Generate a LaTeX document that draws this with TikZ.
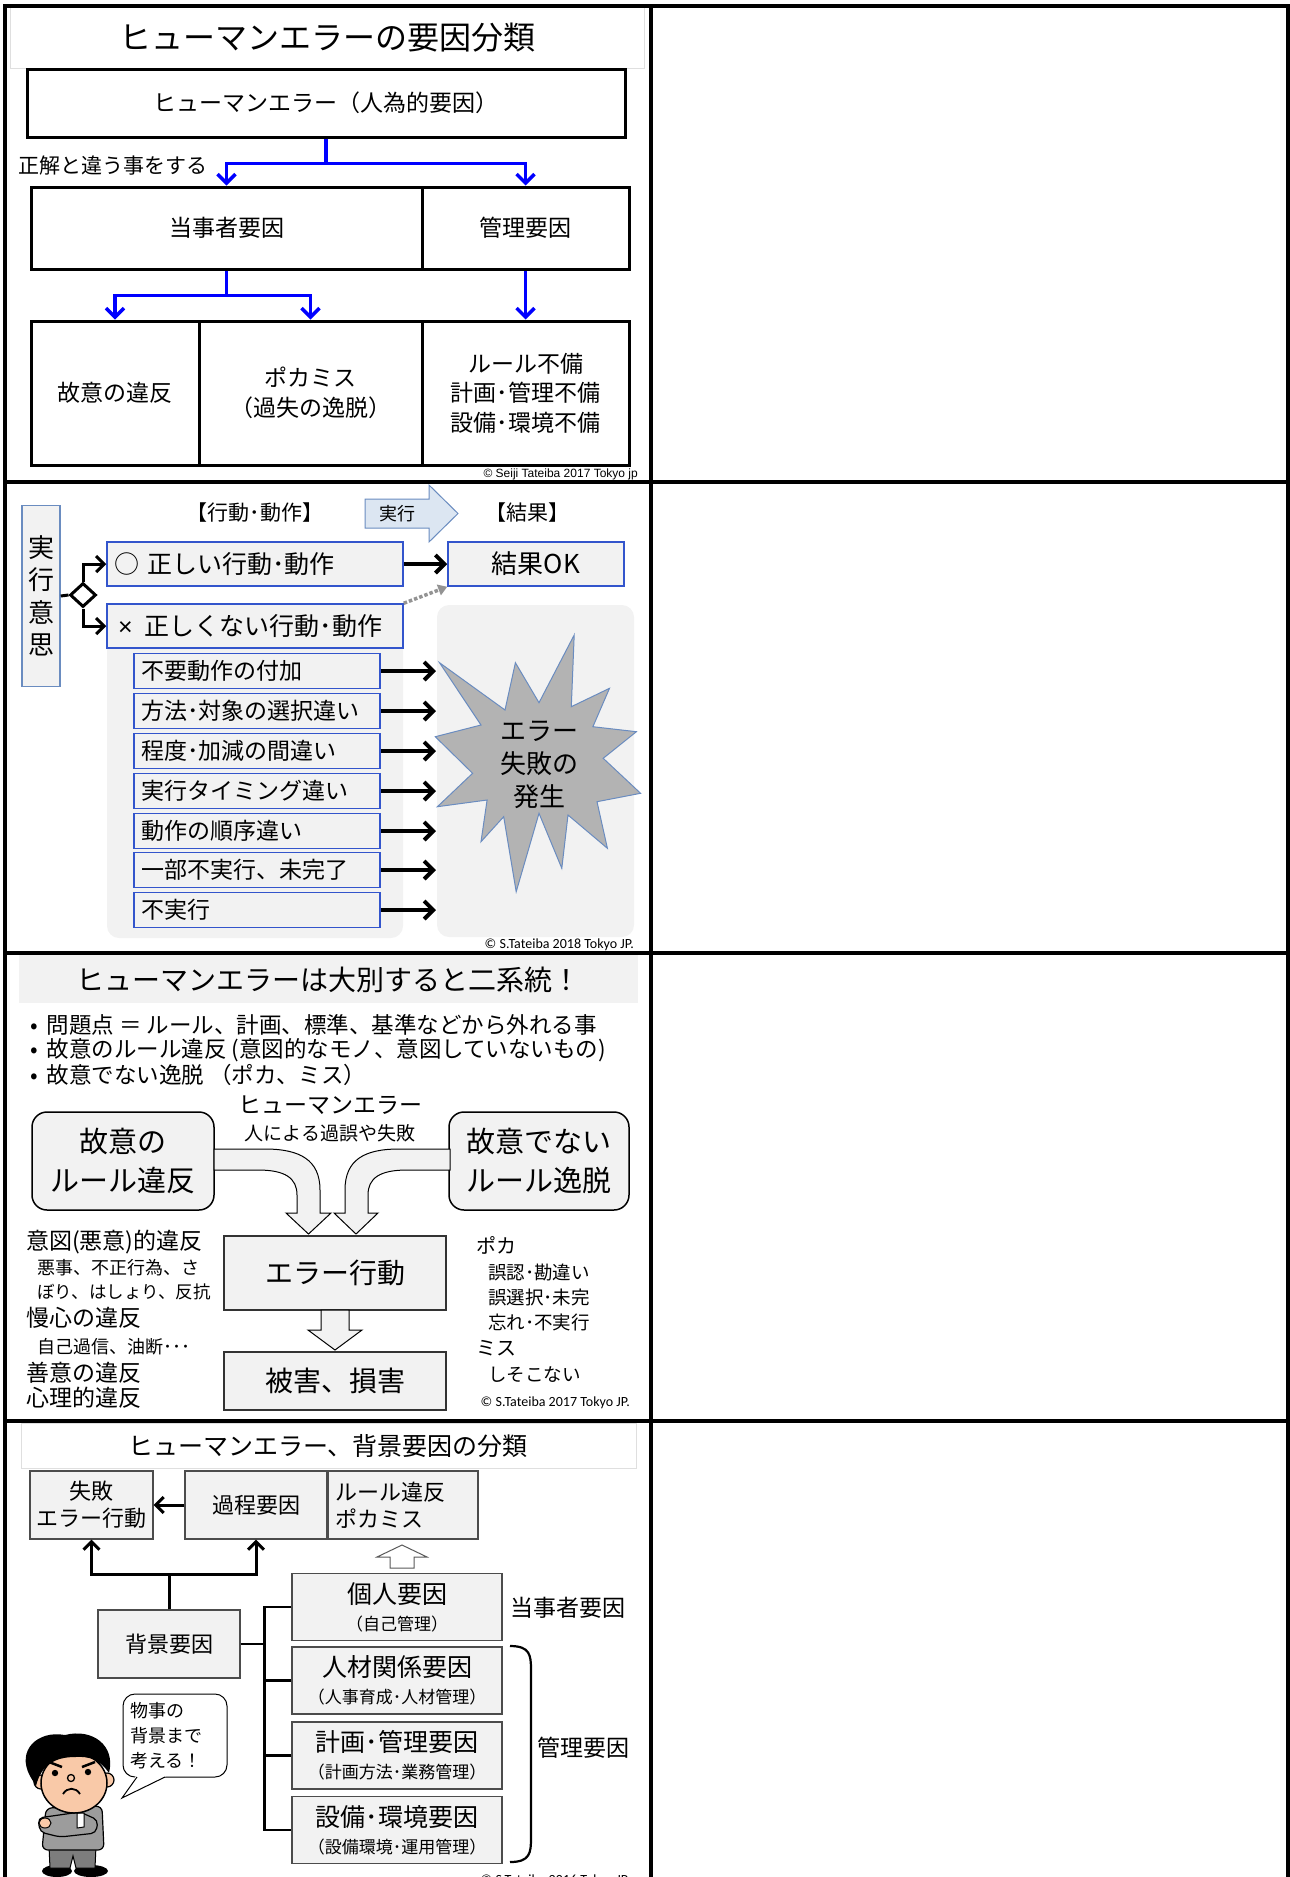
\documentclass[tikz,border=0pt]{standalone}
\usepackage{fontspec}
\setmainfont{Noto Sans CJK JP}
\newfontfamily\notefont{Carlito}
\newfontfamily\latinsans{Liberation Sans}
\usetikzlibrary{arrows.meta,shapes.geometric}

\newcommand\fsz[2]{\fontsize{#1}{#2}\selectfont}
\newcommand\bulletmark{•\hspace{9pt}}

\definecolor{paleGray}{HTML}{F2F2F2}
\definecolor{listBlue}{HTML}{3355CC}
\definecolor{steelBlue}{HTML}{6A8CC0}
\definecolor{burstGray}{HTML}{B3B3B3}
\definecolor{arrowBlue}{HTML}{DCE6F2}
\definecolor{skin}{HTML}{F9C9A8}
\definecolor{suitGray}{HTML}{9C9C9C}

\begin{document}
\begin{tikzpicture}[
        x=1pt, y=-1pt,
        gridLine/.style={line width=4pt, line cap=rect},
        faintFrame/.style={draw=gray!25, line width=1pt},
        plainBox/.style={rectangle, draw=black, line width=3pt, fill=white,
        inner sep=0pt, align=center, font=\fsz{23}{30}},
        blueBox/.style={rectangle, draw=listBlue, line width=1.5pt, fill=paleGray,
        inner ysep=0pt, align=left},
        listBox/.style={blueBox, text width=232, inner xsep=7, minimum height=35,
        font=\fsz{23}{26}},
        steelBox/.style={rectangle, draw=steelBlue, line width=1.5pt, fill=paleGray,
        inner sep=0pt, align=center},
        roundBox/.style={rectangle, rounded corners=15, draw=black, line width=1.5pt,
        fill=paleGray, minimum width=182, minimum height=98, inner sep=0pt,
        align=center, font=\fsz{29}{39}},
        grayBox/.style={rectangle, draw=gray!40!black, line width=1.5pt, fill=paleGray,
        inner sep=0pt, align=center, font=\fsz{28}{32}},
        shadeBox/.style={rectangle, draw=gray!60!black, line width=1.2pt, fill=paleGray,
        inner sep=0pt, align=center, font=\fsz{22}{27}},
        factorBox/.style={shadeBox, minimum width=210, minimum height=67},
        bentArrow/.style={draw=black, line width=1pt, fill=paleGray},
        blueArrow/.style={draw=blue, line width=3.5pt, -{Straight Barb[length=9pt,width=18pt]}},
        arrow/.style={line width=3pt, -{Straight Barb[length=8pt,width=16pt]}},
        heavyArrow/.style={line width=4pt, -{Straight Barb[length=9pt,width=18pt]}},
        dotArrow/.style={draw=gray!85, line width=3.5pt, dash pattern=on 3.5pt off 2pt,
        -{Triangle[length=9pt,width=11pt]}},
        treeLine/.style={line width=2.5pt},
        noteText/.style={anchor=west, inner sep=0pt},
        credit/.style={anchor=east, inner sep=0pt, font=\notefont\fsz{14}{15}},
    ]
    \useasboundingbox (0,0) rectangle (1290,1877);
    \clip (0,0) rectangle (1290,1877);

    % --- 要因分類 ---
    \draw[faintFrame] (10,6) rectangle (644,68);
    \node[font=\fsz{32}{36}] (titleOne) at (327,38) {ヒューマンエラーの要因分類};
    \node[plainBox, minimum width=598, minimum height=68] (humanError) at (326,103) {ヒューマンエラー（人為的要因）};
    \node[plainBox, minimum width=391, minimum height=82] (partyFactor) at (226.5,228) {当事者要因};
    \node[plainBox, minimum width=207, minimum height=82] (mgmtFactor) at (525.5,228) {管理要因};
    \node[plainBox, minimum width=168, minimum height=144] (willful) at (115,393) {故意の違反};
    \node[plainBox, minimum width=223, minimum height=144] (slip) at (310.5,393) {ポカミス\\（過失の逸脱）};
    \node[plainBox, minimum width=207, minimum height=144, font=\fsz{23}{29.5}] (lack) at (525.5,393) {ルール不備\\計画･管理不備\\設備･環境不備};
    \node[noteText, font=\fsz{21}{24}] (wrongDoing) at (18,166) {正解と違う事をする};
    \draw[blueArrow] (humanError.south) -- ++(0,25) -| (partyFactor.north);
    \draw[blueArrow] (humanError.south) -- ++(0,25) -| (mgmtFactor.north);
    \draw[blueArrow] (partyFactor.south) -- ++(0,25) -| (willful.north);
    \draw[blueArrow] (partyFactor.south) -- ++(0,25) -| (slip.north);
    \draw[blueArrow] (mgmtFactor.south) -- (lack.north);
    \node[credit, font=\latinsans\fsz{12}{13}] (creditOne) at (638,474) {© Seiji Tateiba 2017 Tokyo jp};

    % --- 行動・動作と結果 ---
    \fill[paleGray, rounded corners=12] (107,604) rectangle (403,938);
    \fill[paleGray, rounded corners=12] (437,605) rectangle (634,937);
    \node[steelBox, minimum width=38, minimum height=181, font=\fsz{26}{32.5}] (intent) at (41,596) {実\\行\\意\\思};
    \node[diamond, draw, line width=3pt, fill=white, minimum width=26, minimum height=24, inner sep=0pt] (branch) at (83,595) {};
    \node[blueBox, text width=282, inner xsep=7, minimum height=44, font=\fsz{25}{28}] (correctAct) at (255,564) {○ 正しい行動･動作};
    \node[blueBox, text width=282, inner xsep=7, minimum height=44, font=\fsz{25}{28}] (wrongAct) at (255,626) {\hspace{4pt}{\latinsans ×}\hspace{12pt}正しくない行動･動作};
    \node[font=\fsz{21}{24}] (actHead) at (255,513) {【行動･動作】};
    \node[font=\fsz{21}{24}] (resultHead) at (527,513) {【結果】};
    \draw[steelBlue, fill=arrowBlue, line width=1pt] (365,499) -- (429,499) -- (429,485) -- (458,513.5) -- (429,542) -- (429,528) -- (365,528) -- cycle;
    \node[font=\fsz{18}{20}] (execLabel) at (397,513.5) {実行};
    \node[blueBox, align=center, minimum width=176, minimum height=44, inner xsep=0pt, font=\fsz{26}{28}] (resultOK) at (536,564) {結果OK};
    \draw[treeLine, line width=3pt] (intent.east) -- (branch.west);
    \draw[arrow] (branch.north) |- (correctAct.west);
    \draw[arrow] (branch.south) |- (wrongAct.west);
    \draw[heavyArrow] (correctAct.east) -- (resultOK.west);
    \draw[dotArrow] (wrongAct.north east) -- (resultOK.south west);

    \node[listBox] (extraMove) at (257,671) {不要動作の付加};
    \node[listBox] (wrongChoice) at (257,711) {方法･対象の選択違い};
    \node[listBox] (wrongDegree) at (257,751) {程度･加減の間違い};
    \node[listBox] (wrongTiming) at (257,791) {実行タイミング違い};
    \node[listBox] (wrongOrder) at (257,831) {動作の順序違い};
    \node[listBox] (partDone) at (257,870) {一部不実行、未完了};
    \node[listBox] (notDone) at (257,910) {不実行};

    % burst
    \draw[steelBlue, fill=burstGray, line width=1pt] (439.5,662.7) -- (505,710) -- (515.4,662.7) -- (539,702.7) -- (574.2,635) -- (571.3,706.7) -- (609.5,688.3) -- (592.9,726.7) -- (636.4,731.7) -- (603.2,758.3) -- (640.6,793.3) -- (597,801.7) -- (607.4,848.3) -- (568,815) -- (561.8,868.3) -- (539,813.3) -- (516.2,891.7) -- (503.7,816.7) -- (481,841.7) -- (487.1,800) -- (437.4,806.7) -- (472.6,773.3) -- (435.3,736.7) -- (481,725) -- cycle;
    \node[align=center, font=\fsz{26}{33}] (errorBurst) at (539,765) {エラー\\失敗の\\発生};
    \coordinate (burstEdge) at (436,0);
    \draw[heavyArrow] (extraMove.east) -- (extraMove.east -| burstEdge);
    \draw[heavyArrow] (wrongChoice.east) -- (wrongChoice.east -| burstEdge);
    \draw[heavyArrow] (wrongDegree.east) -- (wrongDegree.east -| burstEdge);
    \draw[heavyArrow] (wrongTiming.east) -- (wrongTiming.east -| burstEdge);
    \draw[heavyArrow] (wrongOrder.east) -- (wrongOrder.east -| burstEdge);
    \draw[heavyArrow] (partDone.east) -- (partDone.east -| burstEdge);
    \draw[heavyArrow] (notDone.east) -- (notDone.east -| burstEdge);
    \node[credit] (creditTwo) at (634,945) {© S.Tateiba 2018 Tokyo JP.};

    % --- 二系統 ---
    \fill[paleGray] (19,955) rectangle (638,1003);
    \node[font=\fsz{28}{32}] (titleThree) at (328,980) {ヒューマンエラーは大別すると二系統！};
    \node[noteText, font=\fsz{22.5}{26}] (pointA) at (30,1025) {\bulletmark 問題点 ＝ ルール、計画、標準、基準などから外れる事};
    \node[noteText, font=\fsz{22.5}{26}] (pointB) at (30,1050) {\bulletmark 故意のルール違反 (意図的なモノ、意図していないもの)};
    \node[noteText, font=\fsz{22.5}{26}] (pointC) at (30,1075) {\bulletmark 故意でない逸脱 （ポカ、ミス）};
    \node[font=\fsz{23}{26}] (heHead) at (330,1105) {ヒューマンエラー};
    \node[font=\fsz{19}{22}] (heSub) at (330,1133) {人による過誤や失敗};
    \node[roundBox] (willfulRule) at (123,1161) {故意の\\ルール違反};
    \node[roundBox, minimum width=180] (unwillRule) at (539,1161) {故意でない\\ルール逸脱};
    \draw[bentArrow] (214,1149) -- (265,1149) .. controls (300,1149) and (320,1160) .. (320,1190) -- (320,1213) -- (331,1213) -- (308.5,1234) -- (286,1213) -- (297,1213) -- (297,1195) .. controls (297,1178) and (285,1170) .. (258,1170) -- (214,1170) -- cycle;
    \draw[bentArrow] (450,1149) -- (399,1149) .. controls (364,1149) and (345,1160) .. (345,1190) -- (345,1213) -- (334,1213) -- (356,1234) -- (378,1213) -- (368,1213) -- (368,1195) .. controls (368,1178) and (380,1170) .. (407,1170) -- (450,1170) -- cycle;
    \node[grayBox, minimum width=222, minimum height=74] (errorAct) at (335,1273) {エラー行動};
    \draw[bentArrow] (321,1310) -- (349,1310) -- (349,1330) -- (362,1330) -- (335,1350) -- (308,1330) -- (321,1330) -- cycle;
    \node[grayBox, minimum width=222, minimum height=58] (damage) at (335,1381) {被害、損害};

    \node[noteText, font=\fsz{23}{26}] (intendViol) at (26,1242) {意図(悪意)的違反};
    \node[noteText, font=\fsz{18}{20}] (intendEgA) at (37,1268) {悪事、不正行為、さ};
    \node[noteText, font=\fsz{17.5}{20}] (intendEgB) at (37,1292) {ぼり、はしょり、反抗};
    \node[noteText, font=\fsz{23}{26}] (prideViol) at (26,1318) {慢心の違反};
    \node[noteText, font=\fsz{18}{20}] (prideEg) at (37,1347) {自己過信、油断･･･};
    \node[noteText, font=\fsz{23}{26}] (goodViol) at (26,1373) {善意の違反};
    \node[noteText, font=\fsz{23}{26}] (mindViol) at (26,1398) {心理的違反};
    \node[noteText, font=\fsz{20}{24}] (pokaHead) at (476,1245) {ポカ};
    \node[noteText, font=\fsz{18.5}{22}] (pokaEgA) at (488,1272) {誤認･勘違い};
    \node[noteText, font=\fsz{18.5}{22}] (pokaEgB) at (488,1297) {誤選択･未完};
    \node[noteText, font=\fsz{18.5}{22}] (pokaEgC) at (488,1322) {忘れ･不実行};
    \node[noteText, font=\fsz{20}{24}] (missHead) at (476,1348) {ミス};
    \node[noteText, font=\fsz{18.5}{22}] (missEg) at (488,1375) {しそこない};
    \node[credit] (creditThree) at (630,1403) {© S.Tateiba 2017 Tokyo JP.};

    % --- 背景要因 ---
    \draw[faintFrame] (21,1423) rectangle (636,1468);
    \node[font=\fsz{25}{28}] (titleFour) at (328,1446) {ヒューマンエラー、背景要因の分類};
    \node[shadeBox, minimum width=123, minimum height=68] (failAct) at (91.5,1505) {失敗\\エラー行動};
    \node[shadeBox, minimum width=142, minimum height=68] (process) at (256,1505) {過程要因};
    \node[shadeBox, minimum width=150, minimum height=68, text width=136, inner xsep=7pt, align=left] (violation) at (403,1505) {ルール違反\\ポカミス};
    \node[shadeBox, minimum width=142, minimum height=68] (background) at (169,1644) {背景要因};
    \draw[fill=white, draw=gray!70!black, line width=1pt] (390,1568) -- (390,1557) -- (377,1557) -- (402,1545) -- (427,1557) -- (414,1557) -- (414,1568) -- cycle;
    \draw[arrow] (process.west) -- (failAct.east);
    \draw[arrow] (background.north) -- ++(0,-35) -| (failAct.south);
    \draw[arrow] (background.north) -- ++(0,-35) -| (process.south);

    \node[factorBox] (personal) at (397,1607) {\fsz{25}{28}個人要因\\\fsz{17}{22}（自己管理）};
    \node[factorBox] (people) at (397,1680.5) {\fsz{25}{28}人材関係要因\\\fsz{17}{22}（人事育成･人材管理）};
    \node[factorBox] (planning) at (397,1755.5) {\fsz{25}{28}計画･管理要因\\\fsz{17}{22}（計画方法･業務管理）};
    \node[factorBox] (equipment) at (397,1830) {\fsz{25}{28}設備･環境要因\\\fsz{17}{22}（設備環境･運用管理）};
    \draw[treeLine] (background.east) -- ++(25,0);
    \draw[treeLine] (personal.west) -- ++(-27,0) |- (equipment.west);
    \draw[treeLine] (people.west) -- ++(-27,0);
    \draw[treeLine] (planning.west) -- ++(-27,0);
    \node[font=\fsz{23}{26}] (partyLabel) at (568,1608) {当事者要因};
    \node[font=\fsz{23}{26}] (mgmtLabel) at (583,1748) {管理要因};
    \draw[line width=2.2pt] (510,1646) .. controls (530,1646) and (531,1655) .. (531,1670) -- (531,1838) .. controls (531,1853) and (530,1862) .. (510,1862);

    % speech bubble
    \node[rectangle, rounded corners=12, draw=black, line width=1pt, fill=white, minimum width=104, minimum height=83, text width=90, inner xsep=7pt, align=left, font=\fsz{18}{25}] (thinkBubble) at (175,1735.5) {物事の\\背景まで\\考える！};
    \fill[white] (136,1776) -- (122,1798) -- (166,1776) -- cycle;
    \draw[line width=1pt] (137,1777) -- (122,1798) -- (165,1777);

    % man with folded arms
    \fill (57,1871) ellipse [x radius=15, y radius=6];
    \fill (91,1871) ellipse [x radius=17, y radius=6];
    \draw[fill=suitGray!80!black, line width=1pt] (49,1846) -- (96,1846) -- (95,1868) -- (76,1868) -- (73,1856) -- (70,1868) -- (50,1868) -- cycle;
    \draw[fill=suitGray, line width=1.2pt, rounded corners=6] (46,1808) -- (102,1806) -- (104,1850) -- (42,1850) -- cycle;
    \draw[fill=suitGray, line width=1.2pt, rounded corners=5] (38,1818) -- (80,1812) -- (98,1820) -- (96,1833) -- (60,1837) -- (40,1832) -- cycle;
    \draw[fill=white, line width=1pt] (77,1813) -- (84,1813) -- (84,1827) -- (77,1828) -- cycle;
    \draw[fill=skin, line width=1pt] (45,1823) ellipse [x radius=6, y radius=5];
    \draw[fill=skin, line width=1.2pt] (41,1782) circle [radius=7];
    \draw[fill=skin, line width=1.2pt] (107,1780) circle [radius=7];
    \draw[fill=skin, line width=1.5pt] (74,1783) ellipse [x radius=33, y radius=30];
    \fill (30,1776) .. controls (16,1750) and (38,1730) .. (65,1735) .. controls (92,1728) and (116,1745) .. (109,1773) .. controls (100,1760) and (90,1756) .. (75,1757) .. controls (55,1757) and (41,1765) .. (36,1786) -- cycle;
    \draw[line width=2.5pt] (49,1762) -- (62,1767);
    \draw[line width=2.5pt] (82,1767) -- (95,1762);
    \fill (55,1773) circle [radius=3.2];
    \fill (88,1772) circle [radius=3.2];
    \draw[line width=1.3pt] (71,1778) circle [radius=3.5];
    \draw[line width=1.8pt] (63,1794) .. controls (67,1787) and (76,1787) .. (80,1794);
    \node[credit] (creditFour) at (630,1881) {© S.Tateiba 2016 Tokyo JP.};

    % table grid
    \draw[gridLine] (5,1890) -- (5,6) -- (1287.5,6) -- (1287.5,1890);
    \draw[gridLine] (651,6) -- (651,1890);
    \draw[gridLine] (5,482) -- (1287.5,482);
    \draw[gridLine] (5,953) -- (1287.5,953);
    \draw[gridLine] (5,1421) -- (1287.5,1421);
\end{tikzpicture}
\end{document}
